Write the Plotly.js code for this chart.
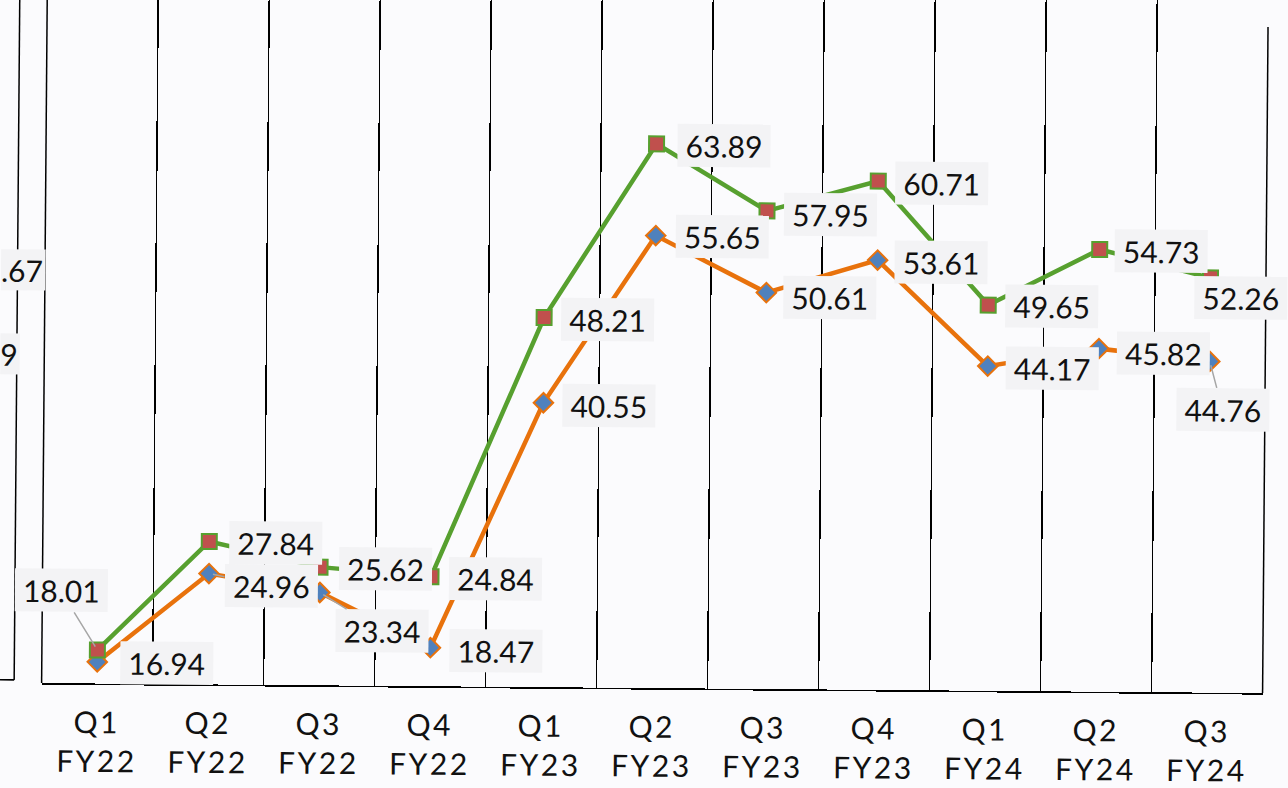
<!DOCTYPE html>
<html>
<head>
<meta charset="utf-8">
<script src="https://cdn.plot.ly/plotly-3.0.1.min.js"></script>
<style>
  html, body { margin: 0; padding: 0; width: 1288px; height: 788px; overflow: hidden; background: #fbfbfd; }
  #chart { position: absolute; left: 0; top: -20px; width: 1288px; height: 828px;
           transform: rotate(0.47deg); transform-origin: 50% 50%; }
  #chart .xtick text { letter-spacing: 2.5px; }
</style>
</head>
<body>
<div id="chart"></div>
<script>
// ---- data ----
const quarters     = ['Q1','Q2','Q3','Q4','Q1','Q2','Q3','Q4','Q1','Q2','Q3'];
const fiscalYears  = ['FY22','FY22','FY22','FY22','FY23','FY23','FY23','FY23','FY24','FY24','FY24'];
const greenSeries  = [18.01, 27.84, 25.62, 24.84, 48.21, 63.89, 57.95, 60.71, 49.65, 54.73, 52.26];
const orangeSeries = [16.94, 24.96, 23.34, 18.47, 40.55, 55.65, 50.61, 53.61, 44.17, 45.82, 44.76];
const cutLabels    = ['.67', '9'];   // labels of a neighbouring chart, cut by the left edge

// ---- label placement (pixel offsets from each point; leader = gray connector) ----
const greenOffsets  = [[-37,-59,true],[66,1],[65,1],[64,2],[63,2],[67,1],[63,3],[63,2],[63,1],[61,1],[30,20]];
const orangeOffsets = [[69,1],[62,12,true],[62,38,true],[65,3],[65,2],[66,1],[63,4],[63,2],[64,2],[64,4],[13,48,true]];

const categories = quarters.map((q, i) => q + '<br>' + fiscalYears[i]);

const FONT = 'Lato, "Noto Sans", sans-serif';
const GREEN = '#57a02f', ORANGE = '#e8720c', RED = '#c0504d', BLUE = '#4f81bd';
const BOX = '#f3f3f5';

const traces = [
  { x: categories, y: orangeSeries, type: 'scatter', mode: 'lines+markers',
    line: { color: ORANGE, width: 4.5 },
    marker: { symbol: 'diamond', size: 15, color: BLUE, line: { color: ORANGE, width: 2 } },
    hoverinfo: 'skip', cliponaxis: false },
  { x: categories, y: greenSeries, type: 'scatter', mode: 'lines+markers',
    line: { color: GREEN, width: 4.5 },
    marker: { symbol: 'square', size: 15, color: RED, line: { color: GREEN, width: 2 } },
    hoverinfo: 'skip', cliponaxis: false }
];

function makeLabels(values, offsets) {
  return values.map((v, i) => {
    const o = offsets[i];
    const base = { x: categories[i], y: v, xref: 'x', yref: 'y', text: v.toFixed(2),
      font: { family: FONT, size: 30, color: '#111' }, bgcolor: BOX, borderpad: 1,
      width: 90, height: 40, align: 'center', valign: 'middle' };
    if (o[2]) {
      return Object.assign(base, { showarrow: true, ax: o[0], ay: o[1], axref: 'pixel', ayref: 'pixel',
        arrowhead: 0, arrowwidth: 1.5, arrowcolor: '#a6a6a6', standoff: 4 });
    }
    return Object.assign(base, { showarrow: false, xanchor: 'center', yanchor: 'middle',
      xshift: o[0], yshift: -o[1] });
  });
}

const annotations = [
  ...makeLabels(orangeSeries, orangeOffsets),
  ...makeLabels(greenSeries, greenOffsets),
  { xref: 'paper', yref: 'paper', x: 0.001, y: 0.583, xanchor: 'right', yanchor: 'middle',
    text: cutLabels[0], showarrow: false, font: { family: FONT, size: 30, color: '#111' },
    bgcolor: BOX, borderpad: 2 },
  { xref: 'paper', yref: 'paper', x: -0.0197, y: 0.4647, xanchor: 'right', yanchor: 'middle',
    text: cutLabels[1], showarrow: false, font: { family: FONT, size: 30, color: '#111' },
    bgcolor: BOX, borderpad: 2 }
];

const edge = { color: '#000', width: 1.5 };
const layout = {
  width: 1288, height: 828,
  margin: { l: 44, r: 23, t: 0, b: 120 },
  paper_bgcolor: '#fbfbfd', plot_bgcolor: '#fbfbfd',
  showlegend: false,
  xaxis: {
    type: 'category', range: [-0.5, 10.5], autorange: false,
    tickson: 'boundaries', showgrid: true, gridcolor: '#000', gridwidth: 1.4,
    showline: true, linecolor: '#000', linewidth: 1.6, ticks: '', ticklen: 0,
    tickfont: { family: FONT, size: 30, color: '#111' }, ticklabelstandoff: 12,
    zeroline: false, fixedrange: true
  },
  yaxis: { range: [15, 78.6], autorange: false, visible: false, showgrid: false, zeroline: false, fixedrange: true },
  shapes: [
    // fragment of the neighbouring chart on the left
    { type: 'line', xref: 'paper', yref: 'paper', x0: -0.0225, x1: -0.0225, y0: 0.0042, y1: 1.05, line: edge },
    { type: 'line', xref: 'paper', yref: 'paper', x0: -0.07, x1: -0.0225, y0: 0.0042, y1: 0.0042,
      line: { color: '#000', width: 1.6 } },
    // plot area left and right edges
    { type: 'line', xref: 'paper', yref: 'paper', x0: 0, x1: 0, y0: 0, y1: 1.05, line: edge },
    { type: 'line', xref: 'paper', yref: 'paper', x0: 1, x1: 1, y0: 0, y1: 0.9407, line: edge }
  ],
  annotations: annotations
};

Plotly.newPlot('chart', traces, layout, { displayModeBar: false, staticPlot: true });
</script>
</body>
</html>
